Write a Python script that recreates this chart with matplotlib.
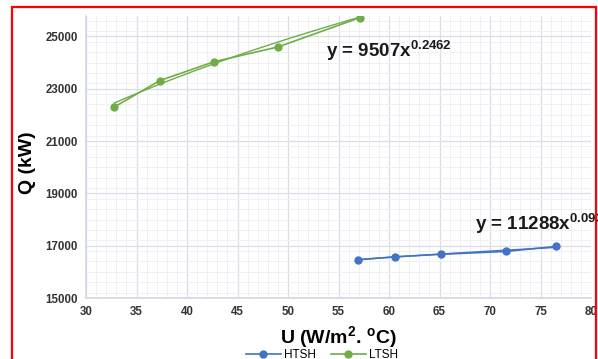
import matplotlib
matplotlib.use("Agg")
import matplotlib.pyplot as plt
import numpy as np
from matplotlib.patches import Rectangle
from matplotlib.ticker import MultipleLocator

# Data
htsh_u = [56.9, 60.6, 65.1, 71.6, 76.5]
htsh_q = [16460, 16575, 16670, 16780, 16970]
ltsh_u = [32.8, 37.3, 42.7, 49.0, 57.1]
ltsh_q = [22300, 23310, 24035, 24595, 25715]
htsh_fit = (11288, 0.0935)
ltsh_fit = (9507, 0.2462)
x_ticks = [30, 35, 40, 45, 50, 55, 60, 65, 70, 75, 80]
y_ticks = [15000, 17000, 19000, 21000, 23000, 25000]

blue = "#4472C4"
green = "#70AD47"

plt.rcParams['font.family'] = ['Liberation Sans', 'DejaVu Sans']
plt.rcParams['mathtext.fontset'] = 'custom'
plt.rcParams['mathtext.rm'] = 'Liberation Sans'
plt.rcParams['mathtext.bf'] = 'Liberation Sans:bold'
plt.rcParams['mathtext.it'] = 'Liberation Sans:italic'

fig = plt.figure(figsize=(5.98, 3.59), dpi=100)
ax = fig.add_axes([86/598, 1-298/359, (591-86)/598, (298-16)/359])

ax.set_xlim(30, 80)
ax.set_ylim(15000, 25780)
ax.set_xticks(x_ticks)
ax.set_yticks(y_ticks)
ax.xaxis.set_minor_locator(MultipleLocator(1))
ax.yaxis.set_minor_locator(MultipleLocator(400))
ax.grid(which='major', color='#D9DEE8', linewidth=0.9)
ax.grid(which='minor', color='#EEF0F4', linewidth=0.7)
ax.set_axisbelow(True)
for s in ['top', 'right']:
    ax.spines[s].set_visible(False)
for s in ['left', 'bottom']:
    ax.spines[s].set_color('#D0D7E5')
    ax.spines[s].set_linewidth(1.2)
ax.tick_params(which='both', length=0, labelsize=8.3, colors='#333333', pad=6)
for lab in ax.get_xticklabels() + ax.get_yticklabels():
    lab.set_fontweight('bold')

# trendlines
xs = np.linspace(min(ltsh_u), max(ltsh_u), 100)
ax.plot(xs, ltsh_fit[0]*xs**ltsh_fit[1], color=green, lw=1.0)
xs2 = np.linspace(min(htsh_u), max(htsh_u), 100)
ax.plot(xs2, htsh_fit[0]*xs2**htsh_fit[1], color=blue, lw=1.0)

ax.plot(htsh_u, htsh_q, color=blue, lw=1.2, marker='o', ms=5, label='HTSH')
ax.plot(ltsh_u, ltsh_q, color=green, lw=1.2, marker='o', ms=5, label='LTSH')

ax.text(326/598, 1-51/359, "y = 9507x$^{\\mathbf{0.2462}}$", transform=fig.transFigure,
        fontsize=13.5, fontweight='bold', va='center', ha='left', color='#1a1a1a')
ax.text(475/598, 1-224/359, "y = 11288x$^{\\mathbf{0.0935}}$", transform=fig.transFigure,
        fontsize=13.5, fontweight='bold', va='center', ha='left', color='#1a1a1a')

fig.text(338/598, 1-337/359, "U (W/m$^{\\mathbf{2}}$. $^{\\mathbf{o}}$C)", fontsize=14,
         fontweight='bold', ha='center', va='center')
fig.text(27/598, 1-163/359, "Q (kW)", fontsize=14, fontweight='bold', rotation=90,
         ha='center', va='center')

leg = fig.legend(loc='center', bbox_to_anchor=(322/598, 1-355/359), ncol=2, frameon=False,
                 fontsize=8.5, handlelength=3, columnspacing=1.2, handletextpad=0.3)

fig.patches.append(Rectangle((12/598, -0.1), (596-12)/598, 1.1-7/359,
                             transform=fig.transFigure, fill=False, edgecolor='red', lw=1.6))

fig.savefig("out.png", dpi=100)
